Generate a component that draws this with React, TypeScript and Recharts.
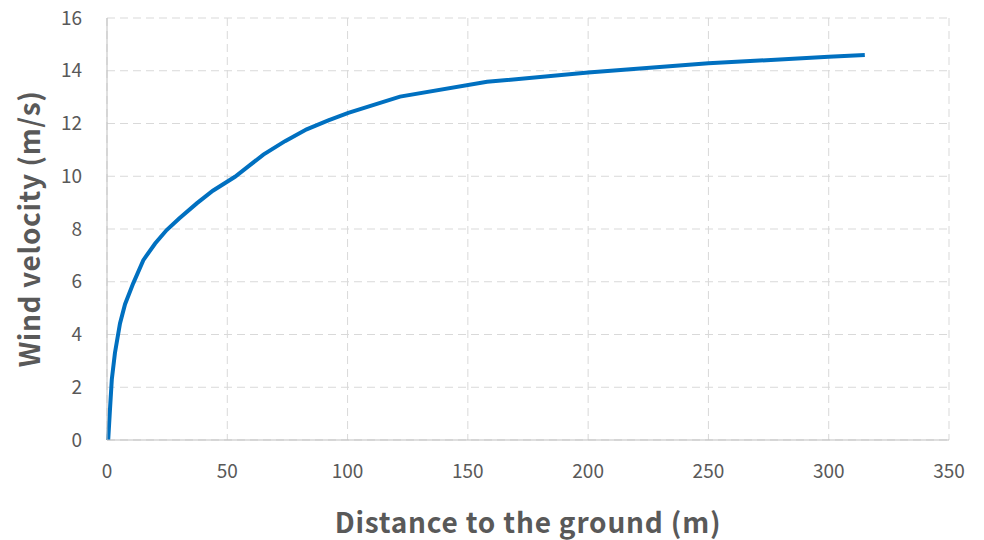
import { CartesianGrid, Line, LineChart, XAxis, YAxis } from "recharts";

const heights = [0.5, 1.2, 2, 3.3, 5.4, 7.5, 10.9, 15.1, 20, 24.8, 30, 37.3, 44, 53.2, 59.4, 65, 74, 83, 92, 100.3, 121.8, 158, 200, 250, 300, 315];
const velocities = [0, 1.1, 2.3, 3.3, 4.42, 5.15, 5.94, 6.82, 7.45, 7.96, 8.4, 8.97, 9.45, 9.98, 10.42, 10.82, 11.33, 11.78, 12.12, 12.4, 13.02, 13.58, 13.93, 14.28, 14.53, 14.6];

const xTicks = [0, 50, 100, 150, 200, 250, 300, 350];
const yTicks = [0, 2, 4, 6, 8, 10, 12, 14, 16];

const data = heights.map((h, i) => ({ x: h, v: velocities[i] }));

const font = "'Noto Sans CJK SC', 'Noto Sans', sans-serif";
const grey = "#595959";

const App = () => {
  return (
    <div style={{ position: "absolute", left: 0, top: 0 }}>
      <LineChart
        width={984}
        height={540}
        data={data}
        margin={{ top: 18, right: 35, left: 0, bottom: 0 }}
        style={{ fontFamily: font }}
      >
        <CartesianGrid stroke="#d9d9d9" strokeDasharray="8 5" />
        <XAxis
          type="number"
          dataKey="x"
          domain={[0, 350]}
          ticks={xTicks}
          height={100}
          tickLine={false}
          tickMargin={19}
          stroke="#bfbfbf"
          tick={{ fill: grey, fontSize: 19 }}
          label={{
            value: "Distance to the ground (m)",
            position: "insideBottom",
            offset: 7,
            fill: grey,
            fontSize: 28,
            fontWeight: "bold",
            letterSpacing: 0.8,
          }}
        />
        <YAxis
          type="number"
          domain={[0, 16]}
          ticks={yTicks}
          width={107}
          tickLine={false}
          tickMargin={19}
          stroke="#bfbfbf"
          tick={{ fill: grey, fontSize: 19 }}
          label={{
            value: "Wind velocity (m/s)",
            angle: -90,
            position: "insideLeft",
            offset: 30,
            style: { textAnchor: "middle", letterSpacing: 0.6 },
            fill: grey,
            fontSize: 28,
            fontWeight: "bold",
          }}
        />
        <Line
          type="linear"
          dataKey="v"
          stroke="#0070c0"
          strokeWidth={4}
          dot={false}
          isAnimationActive={false}
        />
      </LineChart>
    </div>
  );
};

export default App;
